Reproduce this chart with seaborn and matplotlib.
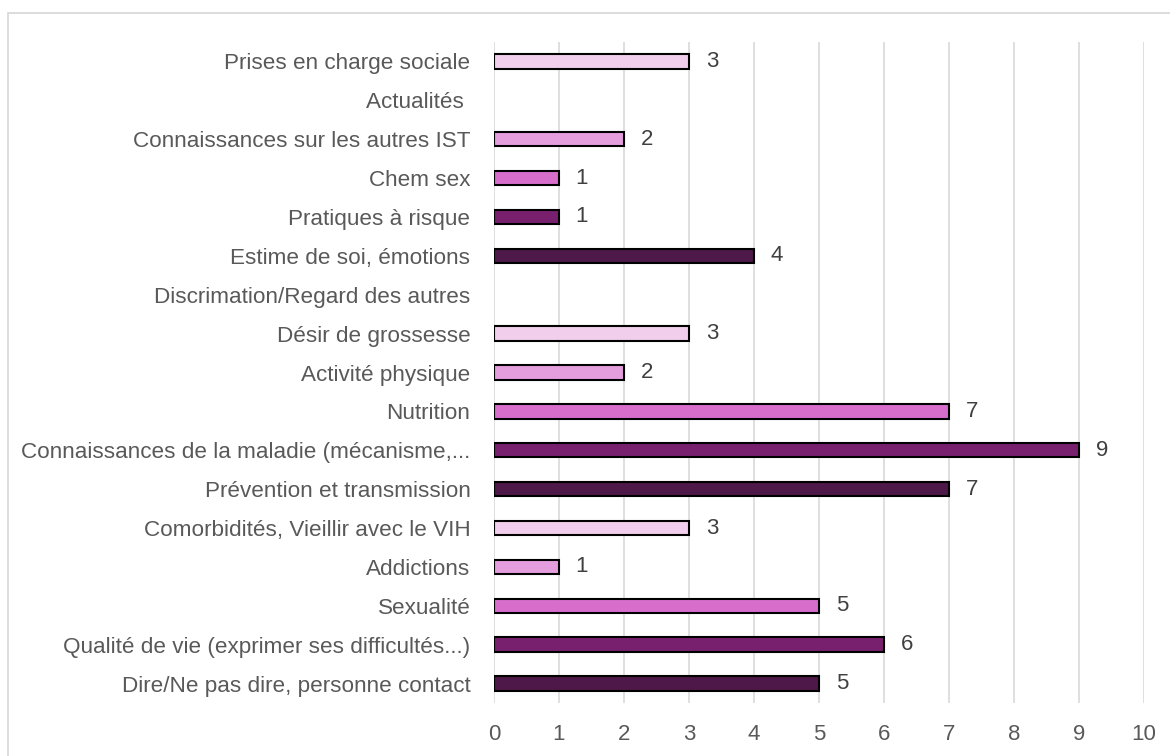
import numpy as np
import pandas as pd
import matplotlib
matplotlib.use("Agg")
import matplotlib.pyplot as plt
from matplotlib.patches import Rectangle
import seaborn as sns

categories = [
    "Prises en charge sociale",
    "Actualités ",
    "Connaissances sur les autres IST",
    "Chem sex",
    "Pratiques à risque",
    "Estime de soi, émotions",
    "Discrimation/Regard des autres",
    "Désir de grossesse",
    "Activité physique",
    "Nutrition",
    "Connaissances de la maladie (mécanisme,...",
    "Prévention et transmission",
    "Comorbidités, Vieillir avec le VIH",
    "Addictions",
    "Sexualité",
    "Qualité de vie (exprimer ses difficultés...)",
    "Dire/Ne pas dire, personne contact",
]
values = [3, np.nan, 2, 1, 1, 4, np.nan, 3, 2, 7, 9, 7, 3, 1, 5, 6, 5]
bar_colors = [
    "#F1CEEC", "#F1CEEC", "#E59EDD", "#D86ECC", "#78206E", "#4E1848",
    "#4E1848", "#F1CEEC", "#E59EDD", "#D86ECC", "#78206E", "#4E1848",
    "#F1CEEC", "#E59EDD", "#D86ECC", "#78206E", "#4E1848",
]
x_ticks = list(range(0, 11))

df = pd.DataFrame({"cat": categories, "val": values})

sns.set_theme(style="white")
plt.rcParams["font.family"] = ["Liberation Sans", "DejaVu Sans"]

fig = plt.figure(figsize=(11.7, 7.56), dpi=100)
ax = fig.add_axes([494 / 1170, 1 - 703 / 756, (1144 - 494) / 1170, (703 - 42) / 756])

sns.barplot(data=df, y="cat", x="val", hue="cat", palette=bar_colors,
            saturation=1, orient="h", legend=False, ax=ax, width=0.37,
            edgecolor="black", linewidth=1.5, zorder=3)

ax.set_xlim(0, 10)
ax.set_xticks(x_ticks)
ax.set_xticklabels([str(t) for t in x_ticks], fontsize=16, color="#595959")
ax.tick_params(axis="x", length=0, pad=15)
ax.tick_params(axis="y", length=0, pad=17, labelsize=16.2, labelcolor="#595959")
ax.xaxis.grid(True, color="#D9D9D9", linewidth=1.2, zorder=0)
ax.yaxis.grid(False)
for s in ax.spines.values():
    s.set_visible(False)
ax.set_xlabel("")
ax.set_ylabel("")

for i, v in enumerate(values):
    if not np.isnan(v):
        ax.annotate(f"{int(v)}", xy=(v, i), xytext=(12, 0), textcoords="offset points",
                    ha="left", va="center", fontsize=16, color="#404040")

fig.patches.append(Rectangle((8 / 1170, -0.1), 1.2, 1 - 13 / 756 + 0.1,
                             transform=fig.transFigure, fill=False,
                             edgecolor="#D9D9D9", linewidth=1.3, zorder=0))

fig.savefig("out.png", dpi=100)
